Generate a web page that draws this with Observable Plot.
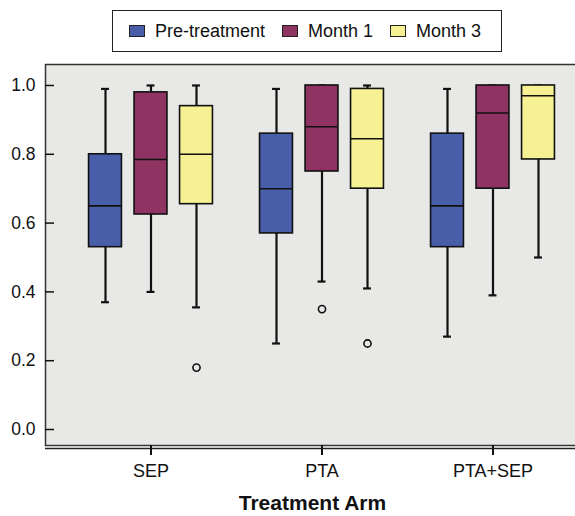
<!DOCTYPE html>
<html>
<head>
<meta charset="utf-8">
<script src="https://cdn.jsdelivr.net/npm/d3@7"></script>
<script src="https://cdn.jsdelivr.net/npm/@observablehq/plot@0.6"></script>
<style>
  body { margin: 0; background: #fff; font-family: "Liberation Sans", Arial, sans-serif; }
  #wrap { position: relative; width: 575px; height: 516px; overflow: hidden; }
  #legend { position: absolute; left: 112px; top: 10px; width: 390px; height: 42px; box-sizing: border-box;
            border: 1.5px solid #222; display: flex; align-items: center; padding-left: 16px;
            font-size: 18px; color: #111; }
  .item { display: flex; align-items: center; margin-right: 17px; }
  .sw { width: 16px; height: 12px; box-sizing: border-box; border: 1.5px solid #222; margin-right: 10px; }
  #chart { position: absolute; left: 0; top: 56px; }
</style>
</head>
<body>
<div id="wrap">
  <div id="legend"></div>
  <div id="chart"></div>
</div>
<script>
// ---- data ----
const arms = ["SEP", "PTA", "PTA+SEP"];
const series = ["Pre-treatment", "Month 1", "Month 3"];
const colors = ["#485ea8", "#8f3363", "#f6f294"];
// rows: series; columns: arms
const whiskerLow  = [[0.37, 0.25, 0.27], [0.40, 0.43, 0.39], [0.355, 0.41, 0.50]];
const quart1      = [[0.53, 0.57, 0.53], [0.625, 0.75, 0.70], [0.655, 0.70, 0.785]];
const medians     = [[0.65, 0.70, 0.65], [0.785, 0.88, 0.92], [0.80, 0.845, 0.97]];
const quart3      = [[0.80, 0.86, 0.86], [0.98, 1.00, 1.00], [0.94, 0.99, 1.00]];
const whiskerHigh = [[0.99, 0.99, 0.99], [1.00, 1.00, 1.00], [1.00, 1.00, 1.00]];
const outlierArm    = ["SEP", "PTA", "PTA"];
const outlierSeries = ["Month 3", "Month 1", "Month 3"];
const outlierValue  = [0.18, 0.35, 0.25];
const yTicks = [0, 0.2, 0.4, 0.6, 0.8, 1.0];
const yDomain = [-0.0465, 1.061];

// ---- styles ----
const bg = "#e8e8e6";
const ink = "#111";
const groupOffset = 45.5;   // px between boxes within an arm
const bandW = 172.1;        // px per arm
const boxInset = (bandW - 34) / 2;
const capInset = (bandW - 9) / 2;

// legend
const legend = document.getElementById("legend");
series.forEach((s, i) => {
  const it = document.createElement("div");
  it.className = "item";
  const sw = document.createElement("div");
  sw.className = "sw";
  sw.style.background = colors[i];
  const tx = document.createElement("span");
  tx.textContent = s;
  it.appendChild(sw); it.appendChild(tx);
  legend.appendChild(it);
});

const marks = [Plot.frame({fill: bg})];
series.forEach((s, i) => {
  const rows = arms.map((a, j) => ({
    arm: a, series: s,
    low: whiskerLow[i][j], q1: quart1[i][j], med: medians[i][j], q3: quart3[i][j], high: whiskerHigh[i][j]
  }));
  const dx = (i - 1) * groupOffset;
  marks.push(
    Plot.ruleX(rows, {x: "arm", y1: "low", y2: "high", stroke: ink, strokeWidth: 2.2, dx}),
    Plot.tickY(rows, {x: "arm", y: "low", stroke: ink, strokeWidth: 2.2, dx, insetLeft: capInset, insetRight: capInset}),
    Plot.tickY(rows, {x: "arm", y: "high", stroke: ink, strokeWidth: 2.2, dx, insetLeft: capInset, insetRight: capInset}),
    Plot.barY(rows, {x: "arm", y1: "q1", y2: "q3", fill: colors[i], stroke: ink, strokeWidth: 1.6, dx, insetLeft: boxInset, insetRight: boxInset}),
    Plot.tickY(rows, {x: "arm", y: "med", stroke: ink, strokeWidth: 1.6, dx, insetLeft: boxInset, insetRight: boxInset})
  );
  const outs = outlierValue.map((v, k) => ({arm: outlierArm[k], series: outlierSeries[k], v})).filter(d => d.series === s);
  marks.push(Plot.dot(outs, {x: "arm", y: "v", r: 3.6, stroke: ink, strokeWidth: 1.6, fill: bg, dx}));
});

marks.push(
  Plot.frame({stroke: "#333", strokeWidth: 1.5}),
  Plot.ruleY([yDomain[0]], {stroke: "#222", strokeWidth: 1.5, dy: 3}),
  Plot.axisY({ticks: yTicks, tickSize: 0, tickPadding: 10, tickFormat: d3.format(".1f"), fontSize: 17.5, label: null}),
  Plot.axisY({ticks: yTicks, tickSize: -9, tickFormat: () => "", label: null, strokeWidth: 1.5}),
  Plot.axisX({tickSize: 10, tickPadding: 9, strokeWidth: 2, fontSize: 18, label: null}),
  Plot.text(["Treatment Arm"], {frameAnchor: "bottom", lineAnchor: "middle", dy: 58, dx: -9.5, fontWeight: "bold", fontSize: 21, fill: ink})
);

const chart = Plot.plot({
  width: 575,
  height: 460,
  marginTop: 8,
  marginBottom: 71,
  marginLeft: 45,
  marginRight: -23,
  style: {fontFamily: "'Liberation Sans', Arial, sans-serif", fontSize: "18px", color: ink, background: "transparent"},
  x: {domain: arms, paddingInner: 0, paddingOuter: 0.108, label: null},
  y: {domain: yDomain, label: null},
  marks
});
document.getElementById("chart").appendChild(chart);
</script>
</body>
</html>
